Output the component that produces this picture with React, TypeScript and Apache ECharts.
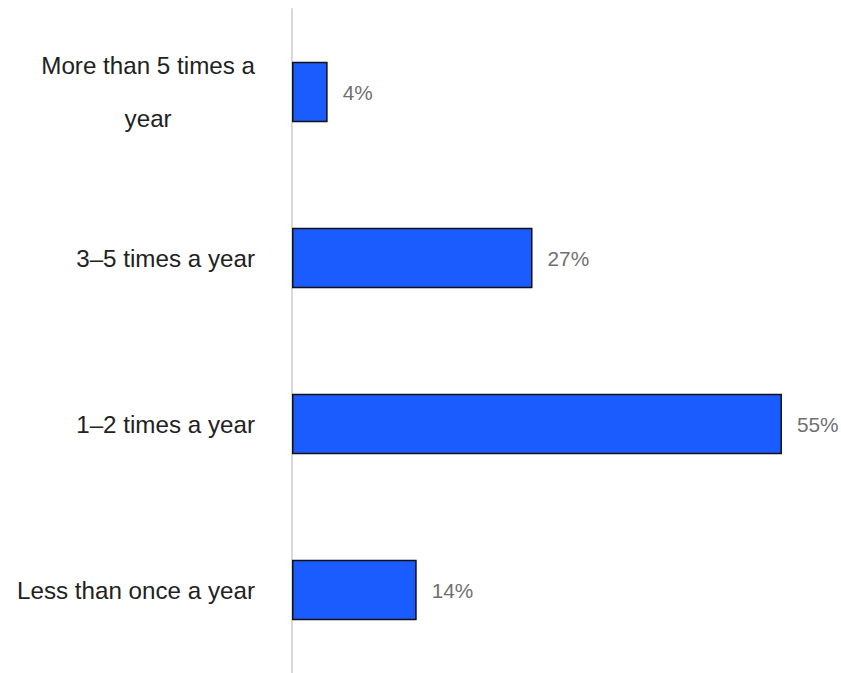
import React, { useEffect, useRef } from "react";
import * as echarts from "echarts";

const categories = [
  "More than 5 times a year",
  "3–5 times a year",
  "1–2 times a year",
  "Less than once a year",
];
const values = [4, 27, 55, 14];

export default function App() {
  const ref = useRef<HTMLDivElement>(null);
  useEffect(() => {
    if (!ref.current) return;
    const chart = echarts.init(ref.current, undefined, { renderer: "svg" });
    chart.setOption({
      animation: false,
      backgroundColor: "#ffffff",
      textStyle: { fontFamily: "Liberation Sans, Arial, sans-serif" },
      grid: { left: 292, top: 9, width: 534.5, height: 667, containLabel: false },
      xAxis: {
        type: "value",
        min: 0,
        max: 60,
        show: false,
      },
      yAxis: {
        type: "category",
        data: categories,
        inverse: true,
        axisLine: { show: true, lineStyle: { color: "#d9d9d9", width: 2 } },
        axisTick: { show: false },
        splitLine: { show: false },
        axisLabel: {
          margin: 37,
          color: "#222222",
          fontSize: 24.2,
          fontFamily: "Liberation Sans, Arial, sans-serif",
          formatter: (v: string) =>
            v === "More than 5 times a year"
              ? "{c|More than 5 times a}\n{c|year}"
              : v,
          rich: {
            c: {
              align: "center",
              fontSize: 24.2,
              lineHeight: 53,
              color: "#222222",
              fontFamily: "Liberation Sans, Arial, sans-serif",
            },
          },
        },
      },
      series: [
        {
          type: "bar",
          data: values,
          barWidth: 60.5,
          itemStyle: { color: "#1a5cff", borderColor: "#111111", borderWidth: 1.5 },
          label: {
            show: true,
            position: "right",
            distance: 15,
            formatter: "{c}%",
            color: "#707070",
            fontSize: 20.8,
            fontFamily: "Liberation Sans, Arial, sans-serif",
          },
        },
      ],
    });
    return () => chart.dispose();
  }, []);
  return (
    <div
      ref={ref}
      style={{ position: "fixed", left: 0, top: 0, width: 841, height: 673 }}
    />
  );
}
